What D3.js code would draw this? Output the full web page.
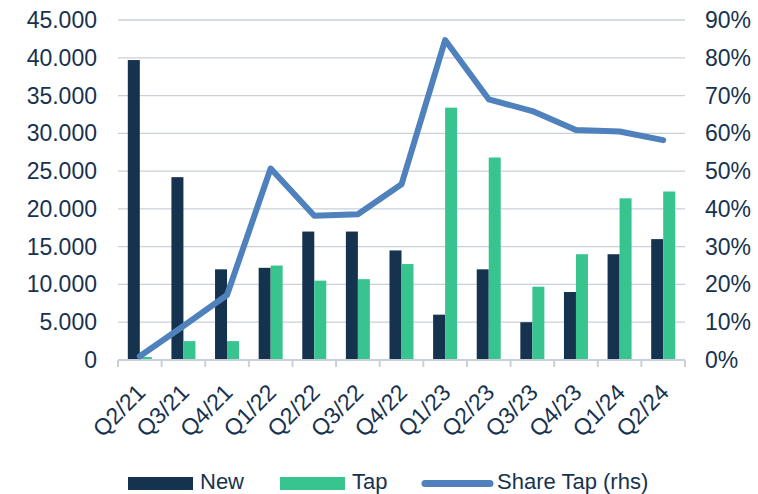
<!DOCTYPE html>
<html>
<head>
<meta charset="utf-8">
<script src="https://cdn.jsdelivr.net/npm/d3@7"></script>
<style>
  body { margin: 0; background: #fff; }
  svg text { font-family: "Liberation Sans", Arial, sans-serif; fill: #17324f; }
</style>
</head>
<body>
<div id="chart-area"></div>
<script>
// quarters and volumes
var quarters = ["Q2/21","Q3/21","Q4/21","Q1/22","Q2/22","Q3/22","Q4/22","Q1/23","Q2/23","Q3/23","Q4/23","Q1/24","Q2/24"]
var newVals = [39700, 24200, 12000, 12200, 17000, 17000, 14500, 6000, 12000, 5000, 9000, 14000, 16000]
var tapVals = [400, 2500, 2500, 12500, 10500, 10700, 12700, 33400, 26800, 9700, 14000, 21400, 22300]
var shareTap = [0.01, 0.09, 0.172, 0.507, 0.382, 0.386, 0.465, 0.847, 0.69, 0.659, 0.609, 0.605, 0.582]
var leftTicks = [0, 5000, 10000, 15000, 20000, 25000, 30000, 35000, 40000, 45000]
var rightTicks = [0, 0.1, 0.2, 0.3, 0.4, 0.5, 0.6, 0.7, 0.8, 0.9]

var navy = "#15324f", green = "#38c48f", blue = "#4f81bd", grid = "#c9d0d9"

var svg = d3.select("#chart-area").append("svg")
    .attr("width", 758)
    .attr("height", 494)

var plotL = 118, plotR = 685, plotT = 20, plotB = 360

var x = d3.scaleBand().domain(quarters).range([plotL, plotR])
var yL = d3.scaleLinear().domain([0, 45000]).range([plotB, plotT])
var yR = d3.scaleLinear().domain([0, 0.9]).range([plotB, plotT])

var fmt = function(v){ return v == 0 ? "0" : d3.format(",")(v).replace(/,/g, ".") }

// gridlines
svg.selectAll(".grid").data(leftTicks.slice(1)).enter()
    .append("line")
    .attr("x1", plotL).attr("x2", plotR)
    .attr("y1", function(d){ return yL(d) }).attr("y2", function(d){ return yL(d) })
    .attr("stroke", grid).attr("stroke-width", 1.3)

// left axis labels
svg.selectAll(".ly").data(leftTicks).enter()
    .append("text")
    .attr("x", 97)
    .attr("y", function(d){ return yL(d) + 8 })
    .attr("text-anchor", "end")
    .style("font-size", "23px")
    .text(fmt)

// right axis labels
svg.selectAll(".ry").data(rightTicks).enter()
    .append("text")
    .attr("x", 705)
    .attr("y", function(d){ return yR(d) + 8 })
    .style("font-size", "23px")
    .text(function(d){ return Math.round(d * 100) + "%" })

// bars
var bw = 12
svg.selectAll(".newbar").data(newVals).enter()
    .append("rect")
    .attr("x", function(d, i){ return x(quarters[i]) + x.bandwidth() / 2 - bw })
    .attr("y", function(d){ return yL(d) })
    .attr("width", bw)
    .attr("height", function(d){ return plotB - yL(d) })
    .attr("fill", navy)

svg.selectAll(".tapbar").data(tapVals).enter()
    .append("rect")
    .attr("x", function(d, i){ return x(quarters[i]) + x.bandwidth() / 2 })
    .attr("y", function(d){ return yL(d) })
    .attr("width", bw)
    .attr("height", function(d){ return plotB - yL(d) })
    .attr("fill", green)

// x axis line and ticks
svg.append("line")
    .attr("x1", plotL).attr("x2", plotR)
    .attr("y1", plotB).attr("y2", plotB)
    .attr("stroke", grid).attr("stroke-width", 2)
var edges = quarters.map(function(q){ return x(q) }).concat([plotR])
svg.selectAll(".tick").data(edges).enter()
    .append("line")
    .attr("x1", function(d){ return d }).attr("x2", function(d){ return d })
    .attr("y1", plotB).attr("y2", plotB + 7)
    .attr("stroke", grid).attr("stroke-width", 2)

// x labels
svg.selectAll(".xl").data(quarters).enter()
    .append("text")
    .attr("transform", function(d){
        return "translate(" + (x(d) + x.bandwidth() / 2 + 7) + "," + 394 + ") rotate(-45)"
    })
    .attr("text-anchor", "end")
    .style("font-size", "23px")
    .text(function(d){ return d })

// share line
var line = d3.line()
    .x(function(d, i){ return x(quarters[i]) + x.bandwidth() / 2 })
    .y(function(d){ return yR(d) })
svg.append("path")
    .datum(shareTap)
    .attr("d", line)
    .attr("fill", "none")
    .attr("stroke", blue)
    .attr("stroke-width", 6)
    .attr("stroke-linejoin", "round")
    .attr("stroke-linecap", "round")

// legend
var lg = svg.append("g")
lg.append("rect").attr("x", 128).attr("y", 477).attr("width", 65).attr("height", 13).attr("fill", navy)
lg.append("text").attr("x", 200).attr("y", 489).style("font-size", "22px").text("New")
lg.append("rect").attr("x", 280).attr("y", 477).attr("width", 65).attr("height", 13).attr("fill", green)
lg.append("text").attr("x", 352).attr("y", 489).style("font-size", "22px").text("Tap")
lg.append("line").attr("x1", 425).attr("x2", 490).attr("y1", 483.5).attr("y2", 483.5)
    .attr("stroke", blue).attr("stroke-width", 7).attr("stroke-linecap", "round")
lg.append("text").attr("x", 497).attr("y", 489).style("font-size", "22px").text("Share Tap (rhs)")
</script>
</body>
</html>
